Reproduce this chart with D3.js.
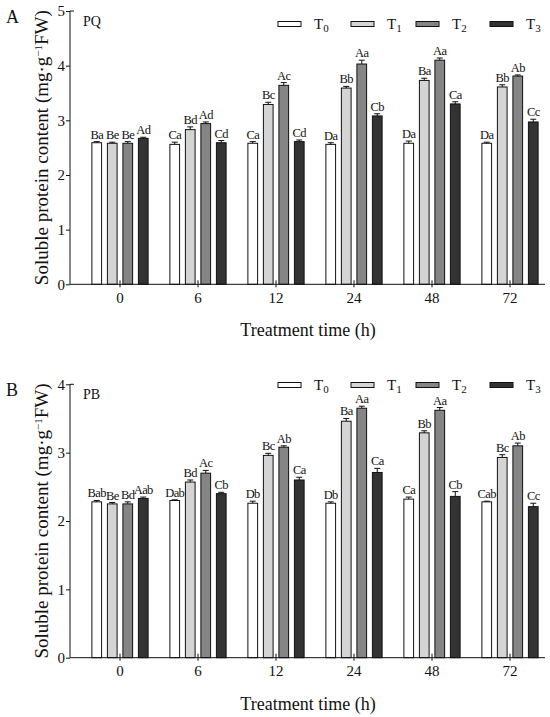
<!DOCTYPE html>
<html>
<head>
<meta charset="utf-8">
<script src="https://cdn.jsdelivr.net/npm/d3@7"></script>
<style>
  body { margin: 0; background: #fff; }
  text { font-family: "Liberation Serif", "DejaVu Serif", serif; fill: #111; }
</style>
</head>
<body>
<div id="chart"></div>
<script>
let w = 550;
let h = 717;

// categories and series
let times = ["0", "6", "12", "24", "48", "72"];
let series = ["T0", "T1", "T2", "T3"];
let seriesFill = ["#ffffff", "#d4d4d4", "#858585", "#333333"];

// panel A (PQ) values, one array per series, by time
let pqT0 = [2.59, 2.56, 2.58, 2.56, 2.58, 2.58];
let pqT1 = [2.58, 2.83, 3.29, 3.59, 3.73, 3.61];
let pqT2 = [2.58, 2.94, 3.64, 4.03, 4.10, 3.81];
let pqT3 = [2.67, 2.59, 2.61, 3.08, 3.30, 2.97];
let pqErr0 = [0.02, 0.04, 0.03, 0.03, 0.04, 0.02];
let pqErr1 = [0.02, 0.05, 0.04, 0.03, 0.04, 0.04];
let pqErr2 = [0.03, 0.03, 0.05, 0.07, 0.04, 0.02];
let pqErr3 = [0.02, 0.04, 0.03, 0.04, 0.04, 0.05];
let pqLab0 = ["Ba", "Ca", "Ca", "Da", "Da", "Da"];
let pqLab1 = ["Be", "Bd", "Bc", "Bb", "Ba", "Bb"];
let pqLab2 = ["Be", "Ad", "Ac", "Aa", "Aa", "Ab"];
let pqLab3 = ["Ad", "Cd", "Cd", "Cb", "Ca", "Cc"];

// panel B (PB) values
let pbT0 = [2.28, 2.30, 2.26, 2.26, 2.32, 2.28];
let pbT1 = [2.25, 2.57, 2.96, 3.46, 3.29, 2.93];
let pbT2 = [2.25, 2.70, 3.08, 3.65, 3.62, 3.10];
let pbT3 = [2.33, 2.40, 2.60, 2.71, 2.36, 2.21];
let pbErr0 = [0.02, 0.01, 0.03, 0.02, 0.03, 0.01];
let pbErr1 = [0.02, 0.03, 0.03, 0.04, 0.03, 0.04];
let pbErr2 = [0.03, 0.04, 0.02, 0.03, 0.04, 0.04];
let pbErr3 = [0.02, 0.02, 0.04, 0.06, 0.07, 0.05];
let pbLab0 = ["Bab", "Dab", "Db", "Db", "Ca", "Cab"];
let pbLab1 = ["Be", "Bd", "Bc", "Ba", "Bb", "Bc"];
let pbLab2 = ["Bd", "Ac", "Ab", "Aa", "Aa", "Ab"];
let pbLab3 = ["Aab", "Cb", "Ca", "Ca", "Cb", "Cc"];

let pqTicks = [0, 1, 2, 3, 4, 5];
let pbTicks = [0, 1, 2, 3, 4];

let svg = d3.select("#chart").append("svg")
  .attr("width", w)
  .attr("height", h);

// turn the series arrays into rows the bars can be drawn from
function makeRows(vals, errs, labs){
  let rows = [];
  times.forEach(function(t, i){
    series.forEach(function(s, j){
      rows.push({time: t, series: s, value: vals[j][i], err: errs[j][i], label: labs[j][i], idx: j});
    });
  });
  return rows;
}

let xScale = d3.scaleBand().domain(times).range([81, 549]);
let innerScale = d3.scaleBand().domain(series).range([0, 78])
  .paddingInner(0.374).paddingOuter(0.702);

function drawPanel(opt){
  let g = svg.append("g");
  let y = d3.scaleLinear().domain(opt.domain).range([opt.bottom, opt.top]);

  // bars
  let bars = g.selectAll(".bar").data(opt.rows).enter().append("g").attr("class", "bar");
  bars.append("rect")
    .attr("x", d => xScale(d.time) + innerScale(d.series))
    .attr("y", d => y(d.value))
    .attr("width", innerScale.bandwidth())
    .attr("height", d => y(0) - y(d.value))
    .attr("fill", d => seriesFill[d.idx])
    .attr("stroke", "#111")
    .attr("stroke-width", 1);

  // error bars, upward only
  let cx = d => xScale(d.time) + innerScale(d.series) + innerScale.bandwidth() / 2;
  bars.append("line")
    .attr("x1", cx).attr("x2", cx)
    .attr("y1", d => y(d.value)).attr("y2", d => y(d.value + d.err))
    .attr("stroke", "#111");
  bars.append("line")
    .attr("x1", d => cx(d) - 3).attr("x2", d => cx(d) + 3)
    .attr("y1", d => y(d.value + d.err)).attr("y2", d => y(d.value + d.err))
    .attr("stroke", "#111");

  // significance letters (a bit squeezed, they sit close together)
  bars.append("text")
    .attr("x", cx)
    .attr("y", d => y(d.value + d.err) - 3)
    .attr("text-anchor", "middle")
    .attr("font-size", 12.5)
    .attr("letter-spacing", -0.6)
    .text(d => d.label);

  // y axis
  let yAxis = g.append("g")
    .attr("transform", "translate(70,0)")
    .call(d3.axisLeft(y).tickValues(opt.ticks).tickSize(4).tickFormat(d3.format("d")));
  yAxis.select(".domain").attr("d", "M0," + opt.bottom + "V" + opt.top + "H4").attr("stroke", "#111");
  yAxis.selectAll(".tick line").attr("stroke", "#111");
  yAxis.selectAll(".tick text").attr("font-size", 15).attr("font-family", "Liberation Serif").attr("fill", "#111").attr("x", -5);

  // x axis
  let xAxis = g.append("g")
    .attr("transform", "translate(0," + opt.bottom + ")")
    .call(d3.axisBottom(xScale).tickSize(0).tickPadding(8));
  xAxis.select(".domain").attr("d", "M70,0H545").attr("stroke", "#111");
  xAxis.selectAll(".tick line").attr("y1", -4).attr("y2", 3).attr("stroke", "#111");
  xAxis.selectAll(".tick text").attr("font-size", 15).attr("font-family", "Liberation Serif").attr("fill", "#111");

  // x title
  g.append("text")
    .attr("x", 308)
    .attr("y", opt.bottom + 52)
    .attr("text-anchor", "middle")
    .attr("font-size", 18)
    .text("Treatment time (h)");

  // y title with superscript
  let yt = g.append("text")
    .attr("transform", "translate(48," + ((opt.top + opt.bottom) / 2) + ") rotate(-90)")
    .attr("text-anchor", "middle")
    .attr("font-size", 19);
  yt.append("tspan").text("Soluble protein content (mg·g");
  yt.append("tspan").attr("baseline-shift", "super").attr("font-size", 11).text("−1");
  yt.append("tspan").text("FW)");

  // panel letter and name
  g.append("text").attr("x", 6).attr("y", opt.top + 12).attr("font-size", 18).text(opt.letter);
  g.append("text").attr("x", 83).attr("y", opt.top + 15).attr("font-size", 14).text(opt.name);

  // legend
  let legX = [278, 351, 416, 490];
  let leg = g.selectAll(".leg").data(series).enter().append("g").attr("class", "leg")
    .attr("transform", (d, i) => "translate(" + legX[i] + "," + opt.legY + ")");
  leg.append("rect")
    .attr("x", 0).attr("y", -2.5).attr("width", 23).attr("height", 5)
    .attr("fill", (d, i) => seriesFill[i])
    .attr("stroke", "#111");
  let lt = leg.append("text").attr("x", 36).attr("y", 5).attr("font-size", 15);
  lt.append("tspan").text(d => d.charAt(0));
  lt.append("tspan").attr("baseline-shift", "-3").attr("font-size", 11).text(d => d.slice(1));
}

drawPanel({
  rows: makeRows([pqT0, pqT1, pqT2, pqT3], [pqErr0, pqErr1, pqErr2, pqErr3], [pqLab0, pqLab1, pqLab2, pqLab3]),
  domain: [0, 5], ticks: pqTicks, top: 11, bottom: 284.3, legY: 24, letter: "A", name: "PQ"
});

drawPanel({
  rows: makeRows([pbT0, pbT1, pbT2, pbT3], [pbErr0, pbErr1, pbErr2, pbErr3], [pbLab0, pbLab1, pbLab2, pbLab3]),
  domain: [0, 4], ticks: pbTicks, top: 384.3, bottom: 657.7, legY: 385, letter: "B", name: "PB"
});
</script>
</body>
</html>
